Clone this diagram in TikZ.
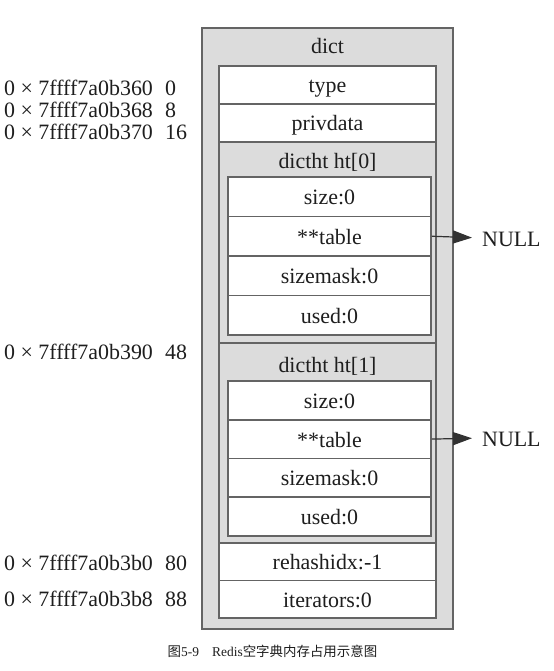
\documentclass[tikz,border=0pt]{standalone}
\usepackage{fontspec}
\setmainfont{Liberation Serif}
\newfontfamily\cjk{Noto Sans CJK SC}
\usetikzlibrary{arrows.meta}
\definecolor{boxgray}{RGB}{220,220,220}
\definecolor{edgegray}{RGB}{100,100,100}
\definecolor{txt}{RGB}{30,30,30}
\definecolor{tipcol}{RGB}{50,50,50}
\tikzset{
  cell/.style={draw=edgegray, line width=1.6bp, fill=white, inner sep=0pt, anchor=center,
    font=\fontsize{22}{26}\selectfont, text=txt, text height=16bp, text depth=0bp},
  grp/.style={draw=edgegray, line width=1.6bp, fill=boxgray, inner sep=0pt, anchor=center},
  lbl/.style={inner sep=0pt, font=\fontsize{22}{26}\selectfont, text=txt, text height=16bp, text depth=0bp},
  addr/.style={lbl, anchor=west},
  arr/.style={draw=tipcol, line width=1.2bp, -{Triangle[length=19bp,width=13bp]}, shorten >=10bp}
}
\begin{document}
\begin{tikzpicture}[x=1bp,y=-1bp]
\useasboundingbox (0,0) rectangle (554,671);
% outer dict box
\node[grp, minimum width=251bp, minimum height=601bp] (dict) at (327.5,328.5) {};
\node[lbl] (dictlbl) at (327.5,46) {dict};
\node[cell, minimum width=217bp, minimum height=38bp] (type) at (327.5,85) {type};
\node[cell, minimum width=217bp, minimum height=38bp] (priv) at (327.5,123) {privdata};
% ht[0]
\node[grp, minimum width=217bp, minimum height=201bp] (ht0) at (327.5,242.5) {};
\node[lbl] (ht0lbl) at (327.5,160) {dictht ht[0]};
\node[cell, minimum width=203bp, minimum height=39.5bp] (t0s) at (329.5,196.75) {size:0};
\node[cell, minimum width=203bp, minimum height=39.5bp] (t0t) at (329.5,236.25) {**table};
\node[cell, minimum width=203bp, minimum height=39.5bp] (t0m) at (329.5,275.75) {sizemask:0};
\node[cell, minimum width=203bp, minimum height=39.5bp] (t0u) at (329.5,315.25) {used:0};
% ht[1]
\node[grp, minimum width=217bp, minimum height=200bp] (ht1) at (327.5,443) {};
\node[lbl] (ht1lbl) at (327.5,364) {dictht ht[1]};
\node[cell, minimum width=203bp, minimum height=38.75bp] (t1s) at (329.5,400.4) {size:0};
\node[cell, minimum width=203bp, minimum height=38.75bp] (t1t) at (329.5,439.1) {**table};
\node[cell, minimum width=203bp, minimum height=38.75bp] (t1m) at (329.5,477.9) {sizemask:0};
\node[cell, minimum width=203bp, minimum height=38.75bp] (t1u) at (329.5,516.6) {used:0};
% rest
\node[cell, minimum width=217bp, minimum height=37.5bp] (rehash) at (327.5,561.75) {rehashidx:-1};
\node[cell, minimum width=217bp, minimum height=37.5bp] (iter) at (327.5,599.25) {iterators:0};
% NULL pointers
\node[lbl, anchor=west] (null0) at (482,238) {NULL};
\node[lbl, anchor=west] (null1) at (482,438) {NULL};
\draw[arr] (t0t.east) -- (null0.west);
\draw[arr] (t1t.east) -- (null1.west);
% addresses
\node[addr] (a0) at (4,88) {0 × 7ffff7a0b360};
\node[addr] (o0) at (165,88) {0};
\node[addr] (a1) at (4,110) {0 × 7ffff7a0b368};
\node[addr] (o1) at (165,110) {8};
\node[addr] (a2) at (4,131) {0 × 7ffff7a0b370};
\node[addr] (o2) at (165,131) {16};
\node[addr] (a3) at (4,351) {0 × 7ffff7a0b390};
\node[addr] (o3) at (165,351) {48};
\node[addr] (a4) at (4,562) {0 × 7ffff7a0b3b0};
\node[addr] (o4) at (165,562) {80};
\node[addr] (a5) at (4,598) {0 × 7ffff7a0b3b8};
\node[addr] (o5) at (165,598) {88};
% caption
\node[inner sep=0pt, font=\fontsize{13.5}{16}\selectfont, text=txt] (cap) at (272.5,651)
  {{\cjk 图}5-9\hspace{13bp}Redis{\cjk 空字典内存占用示意图}};
\end{tikzpicture}
\end{document}
